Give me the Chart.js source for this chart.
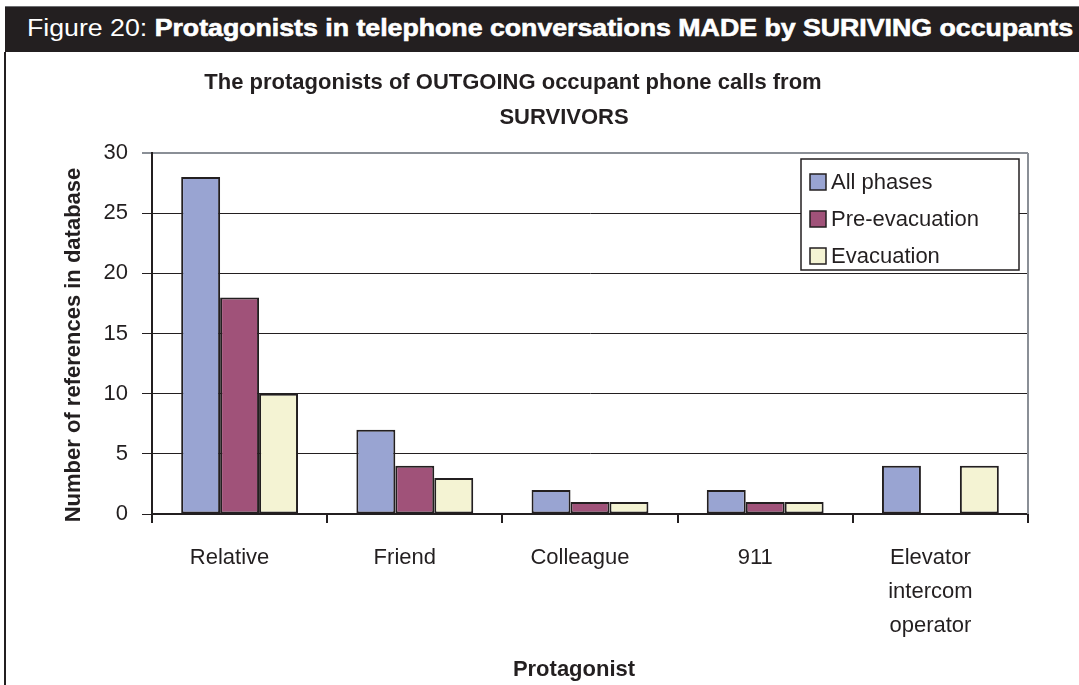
<!DOCTYPE html>
<html lang="en">
<head>
  <meta charset="UTF-8">
  <title>Figure 20 - Protagonists in telephone conversations</title>
  <script src="https://cdn.jsdelivr.net/npm/chart.js"></script>
  <style>
    body { margin: 0; background: #fff; font-family: "Liberation Sans", Arial, sans-serif; }
    #wrap { position: relative; width: 1079px; height: 685px; overflow: hidden; }
    #head {
      position: absolute; left: 5px; top: 6px; width: 1074px; height: 46px;
      background: #231f20; border-top: 1px solid #6d6e71; box-sizing: border-box;
    }
    #headText {
      position: absolute; left: 22px; top: 8px; color: #fff; font-size: 23px;
      white-space: nowrap; transform-origin: left center;
    }
    #headText b { -webkit-text-stroke: 0.6px #fff; }
    #frame { position: absolute; left: 4px; top: 52px; height: 633px; border-left: 2px solid #231f20; }
    canvas { position: absolute; left: 0; top: 0; }
  </style>
</head>
<body>
<div id="wrap">
  <canvas id="chart" width="1079" height="685"></canvas>
  <div id="head"><span id="headText">Figure 20: <b>Protagonists in telephone conversations MADE by SURIVING occupants</b></span></div>
  <div id="frame"></div>
</div>

<script>
  const categories = ['Relative', 'Friend', 'Colleague', '911', ['Elevator', 'intercom', 'operator']];
  const allPhases = [28, 7, 2, 2, 4];
  const preEvacuation = [18, 4, 1, 1, 0];
  const evacuation = [10, 3, 1, 1, 4];
  const titleLines = ['The protagonists of OUTGOING occupant phone calls from', 'SURVIVORS'];
  const xTitle = 'Protagonist';
  const yTitle = 'Number of references in database';

  // stretch the header text to the width of the printed band
  const head = document.getElementById('headText');
  head.style.transform = 'scaleX(' + (1046 / head.getBoundingClientRect().width) + ')';

  const ink = '#231f20';
  const font = '"Liberation Sans", Arial, sans-serif';

  // chart title and axis titles, placed where the original put them
  const titlePlugin = {
    id: 'excelTitles',
    afterDraw(chart) {
      const c = chart.ctx;
      c.save();
      c.fillStyle = ink;
      c.font = 'bold 22px ' + font;
      c.textAlign = 'center';
      c.textBaseline = 'middle';
      c.fillText(titleLines[0], 513, 83);
      c.fillText(titleLines[1], 564, 118);
      c.fillText(xTitle, 574, 670);
      c.translate(74, 345);
      c.rotate(-Math.PI / 2);
      c.fillText(yTitle, 0, 0);
      c.restore();
    }
  };

  // boxed legend inside the plot + grey right edge of the plot
  const legendBox = {
    id: 'legendBox',
    afterDraw(chart) {
      const c = chart.ctx;
      const a = chart.chartArea;
      c.save();
      c.strokeStyle = '#8a8f96';
      c.lineWidth = 2;
      c.beginPath();
      c.moveTo(a.right, a.top);
      c.lineTo(a.right, a.bottom);
      c.stroke();

      const x = 801, y = 159, w = 218, h = 111;
      c.fillStyle = '#fff';
      c.fillRect(x, y, w, h);
      c.strokeStyle = ink;
      c.lineWidth = 1.5;
      c.strokeRect(x, y, w, h);
      c.font = '22px ' + font;
      c.textBaseline = 'middle';
      chart.data.datasets.forEach((ds, i) => {
        const cy = 182 + i * 37;
        c.fillStyle = ds.backgroundColor;
        c.fillRect(810, cy - 8, 16, 16);
        c.strokeStyle = ink;
        c.lineWidth = 1.5;
        c.strokeRect(810, cy - 8, 16, 16);
        c.fillStyle = ink;
        c.fillText(ds.label, 831, cy + 1);
      });
      c.restore();
    }
  };

  const barStyle = { borderColor: ink, borderWidth: 2, borderSkipped: false };

  new Chart(document.getElementById('chart'), {
    type: 'bar',
    data: {
      labels: categories,
      datasets: [
        { label: 'All phases', data: allPhases, backgroundColor: '#99a4d2', ...barStyle },
        { label: 'Pre-evacuation', data: preEvacuation, backgroundColor: '#a05279', ...barStyle },
        { label: 'Evacuation', data: evacuation, backgroundColor: '#f4f3d3', ...barStyle }
      ]
    },
    options: {
      responsive: false,
      animation: false,
      categoryPercentage: 0.667,
      barPercentage: 1.0,
      layout: { padding: { top: 153, right: 51, left: 0, bottom: 0 } },
      plugins: {
        legend: { display: false },
        tooltip: { enabled: false }
      },
      scales: {
        x: {
          grid: { offset: true, drawOnChartArea: false, drawTicks: true, tickLength: 9, color: ink, lineWidth: 2 },
          border: { color: ink, width: 2 },
          ticks: {
            color: ink, padding: 18, maxRotation: 0, autoSkip: false, labelOffset: -10,
            font: { family: font, size: 22, lineHeight: 1.55 }
          },
          afterFit(scale) { scale.height = 171; }
        },
        y: {
          min: 0, max: 30,
          ticks: { stepSize: 5, color: ink, padding: 14, font: { family: font, size: 22 } },
          grid: {
            color: (ctx) => ctx.tick && ctx.tick.value === 30 ? '#8a8f96' : ink,
            lineWidth: (ctx) => ctx.tick && ctx.tick.value === 30 ? 2 : 1,
            tickLength: 10
          },
          border: { color: ink, width: 2 },
          afterFit(scale) { scale.width = 152; }
        }
      }
    },
    plugins: [titlePlugin, legendBox]
  });
</script>
</body>
</html>
